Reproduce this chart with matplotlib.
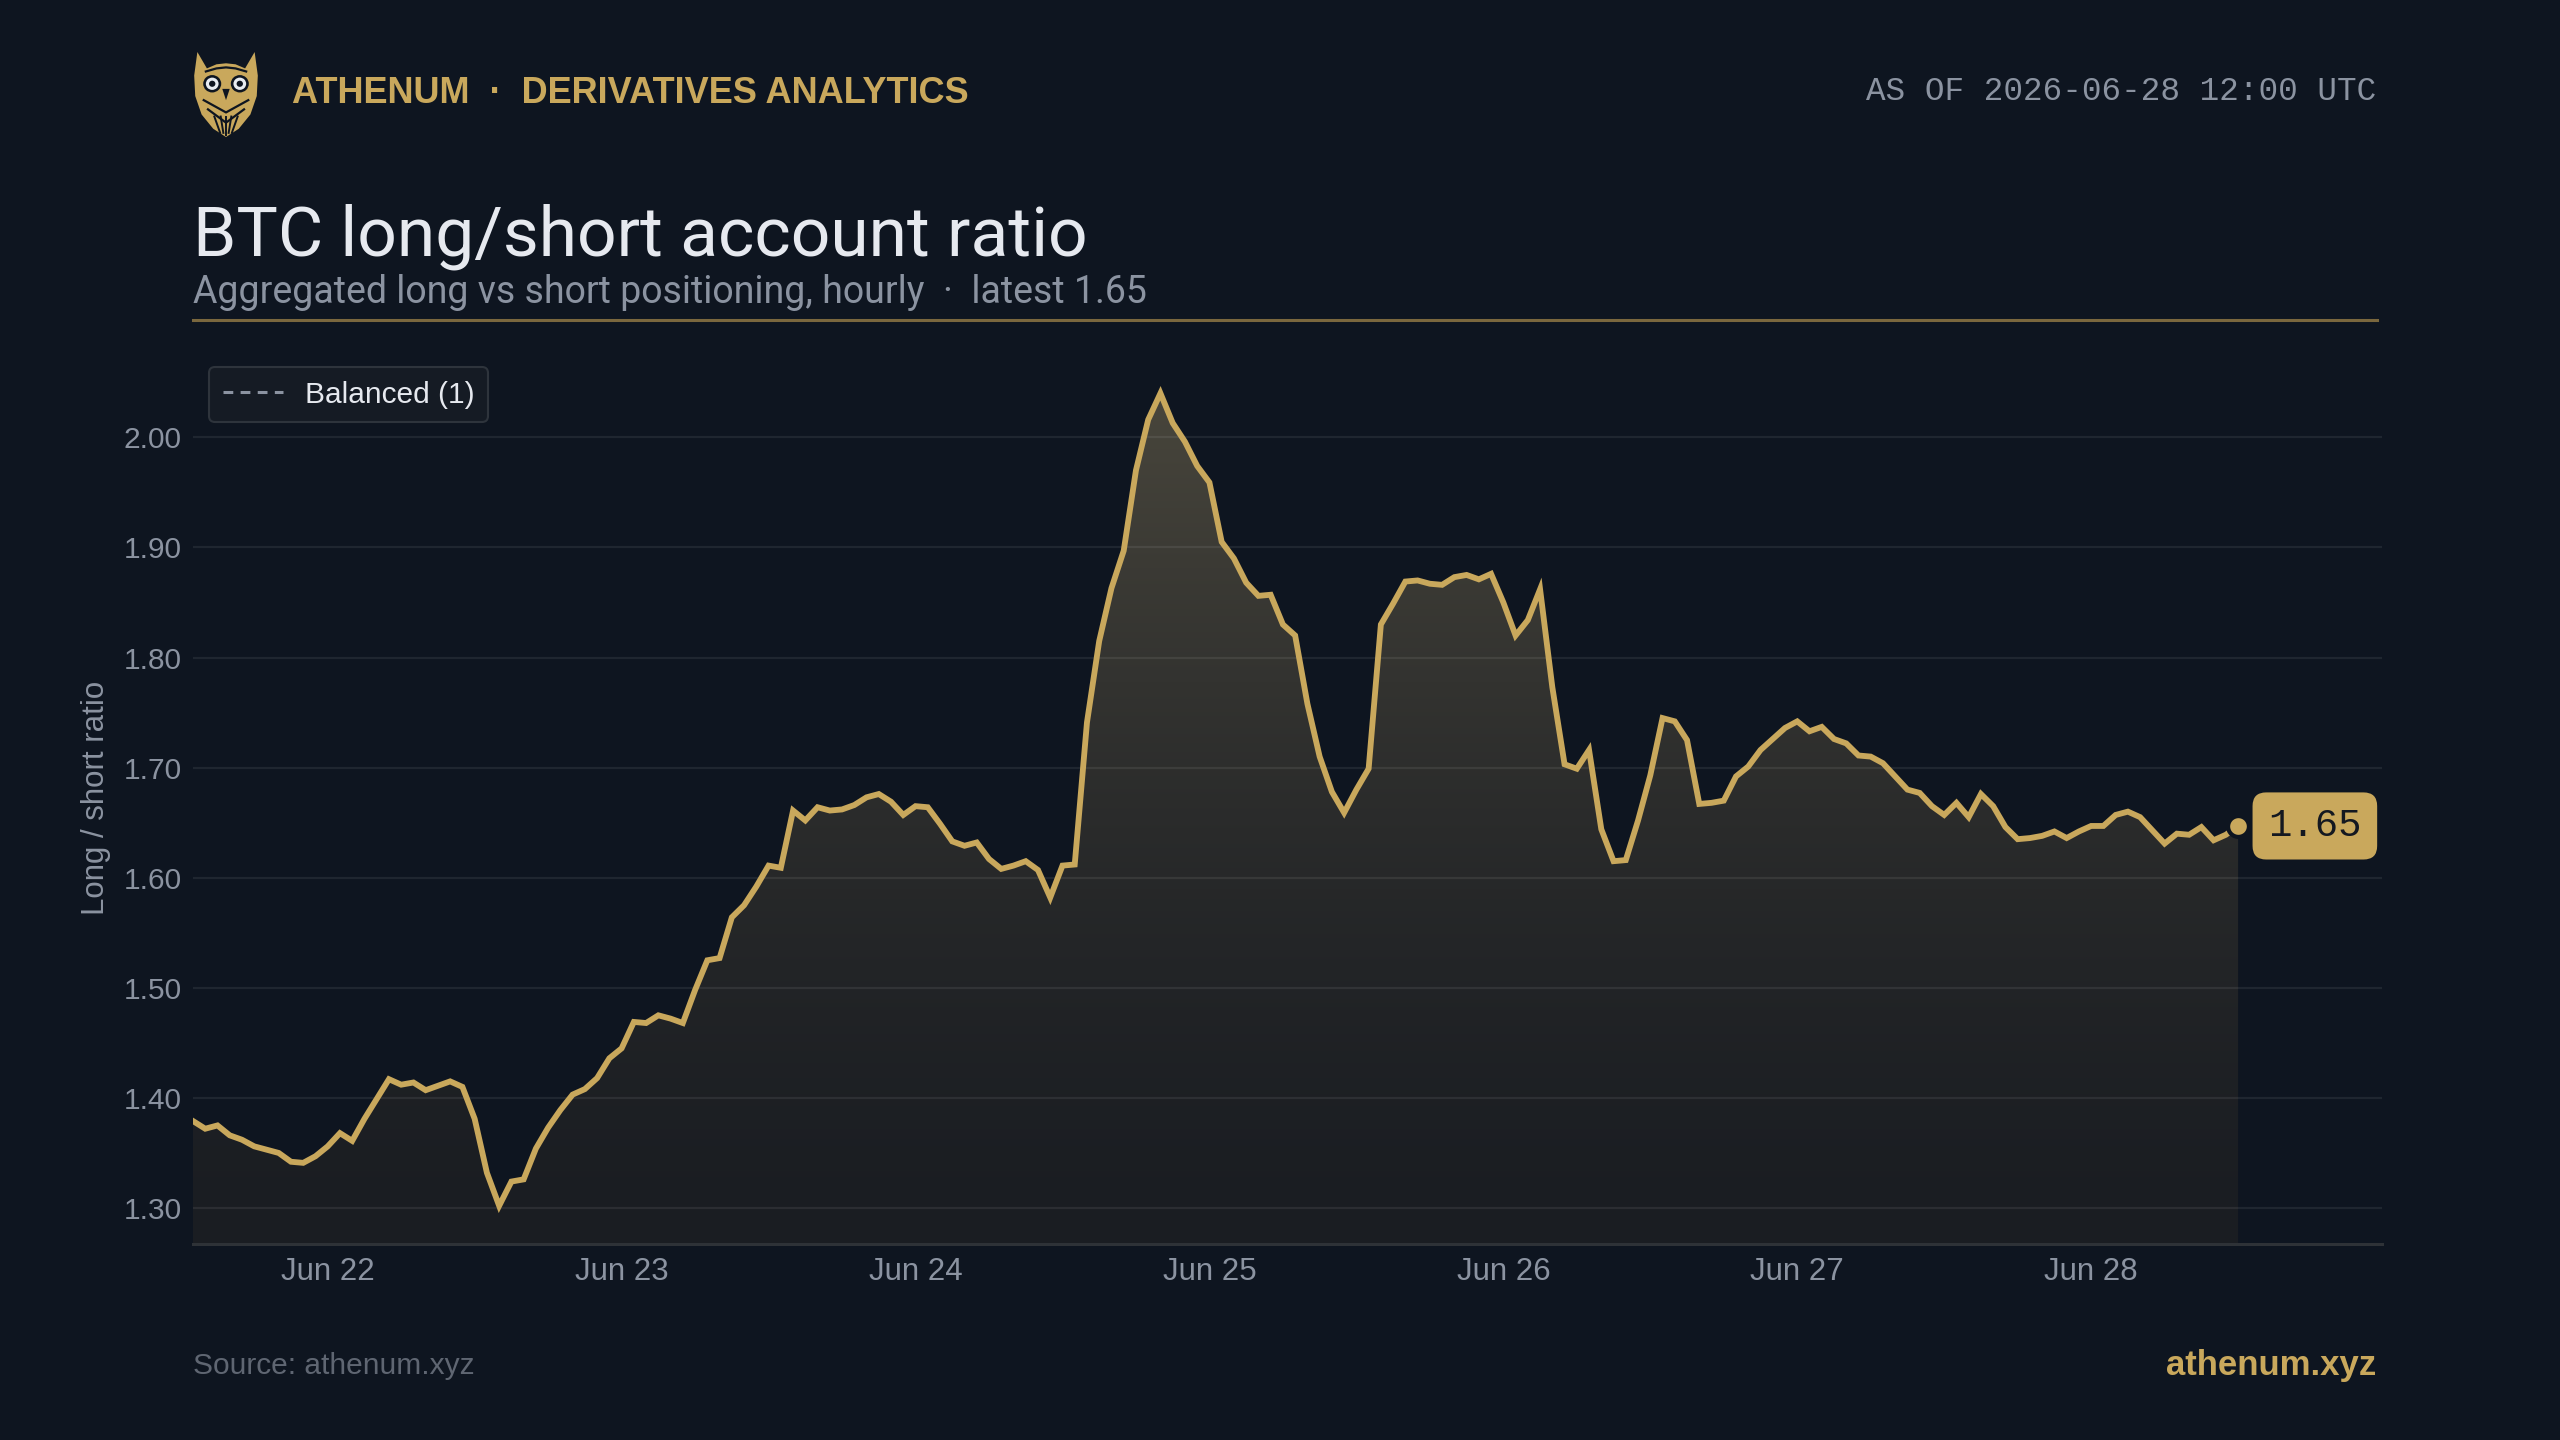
import numpy as np
import pandas as pd
import matplotlib
matplotlib.use("Agg")
import matplotlib.pyplot as plt
import matplotlib.dates as mdates
from matplotlib.patches import Polygon, Circle

# ---------------- data ----------------
start_time = "2026-06-21 13:00"
ratio = [
    1.379, 1.372, 1.375, 1.366, 1.362, 1.356, 1.353, 1.350, 1.342, 1.341,
    1.347, 1.356, 1.368, 1.361, 1.381, 1.399, 1.417, 1.412, 1.414, 1.407,
    1.411, 1.415, 1.410, 1.381, 1.332, 1.302, 1.324, 1.326, 1.354, 1.373,
    1.389, 1.403, 1.408, 1.418, 1.436, 1.445, 1.469, 1.468, 1.475, 1.472,
    1.468, 1.498, 1.525, 1.527, 1.564, 1.575, 1.592, 1.611, 1.609, 1.661,
    1.652, 1.664, 1.661, 1.662, 1.666, 1.673, 1.676, 1.669, 1.657, 1.665,
    1.664, 1.649, 1.633, 1.629, 1.632, 1.617, 1.608, 1.611, 1.615, 1.607,
    1.582, 1.611, 1.612, 1.741, 1.815, 1.863, 1.897, 1.970, 2.016, 2.040,
    2.013, 1.996, 1.974, 1.959, 1.905, 1.890, 1.868, 1.856, 1.857, 1.830,
    1.820, 1.758, 1.710, 1.678, 1.659, 1.680, 1.699, 1.830, 1.849, 1.869,
    1.870, 1.867, 1.866, 1.873, 1.875, 1.871, 1.876, 1.850, 1.820, 1.834,
    1.862, 1.773, 1.703, 1.699, 1.716, 1.644, 1.615, 1.616, 1.652, 1.693,
    1.745, 1.742, 1.725, 1.667, 1.668, 1.670, 1.692, 1.701, 1.716, 1.726,
    1.736, 1.742, 1.733, 1.737, 1.726, 1.722, 1.711, 1.710, 1.704, 1.692,
    1.680, 1.677, 1.665, 1.657, 1.668, 1.655, 1.676, 1.665, 1.646, 1.635,
    1.636, 1.638, 1.642, 1.636, 1.642, 1.647, 1.647, 1.657, 1.660, 1.655,
    1.643, 1.631, 1.640, 1.639, 1.646, 1.634, 1.639, 1.647,
]
times = pd.date_range(start_time, periods=len(ratio), freq="h")
tick_days = pd.date_range("2026-06-22", "2026-06-28", freq="D")
balanced_level = 1.0
ytick_values = [1.30, 1.40, 1.50, 1.60, 1.70, 1.80, 1.90, 2.00]

# ---------------- style ----------------
BG = "#0e1520"
GOLD = "#c9a85c"
MUTED = "#8b93a1"
TITLE_C = "#e6e9ef"
SANS = ["Liberation Sans", "DejaVu Sans"]
HEAD = ["Roboto", "Liberation Sans", "DejaVu Sans"]
MONO = ["Liberation Mono", "DejaVu Sans Mono"]

W, H = 2560, 1440
fig = plt.figure(figsize=(25.6, 14.4), dpi=100, facecolor=BG)

def fx(px):
    return px / W

def fy(py):
    return 1 - py / H

# ---------------- main axes ----------------
ax = fig.add_axes([fx(193), fy(1244), fx(2382 - 193), (1244 - 351) / H])
ax.set_facecolor(BG)
y0, y1 = 1.2673, 2.0784
x0 = mdates.date2num(times[0])
x_end = mdates.date2num(pd.Timestamp("2026-06-28 23:45"))
xnum = mdates.date2num(times)

# gradient fill under the curve
poly = ax.fill_between(times, ratio, y0, facecolor="none", edgecolor="none")
path = poly.get_paths()[0]
g = np.linspace(0, 1, 400)[:, None]
frac = g ** 1.5
c_lo = np.array([26, 29, 34]) / 255
c_hi = np.array([76, 73, 62]) / 255
img = c_lo[None, None, :] + frac[..., None] * (c_hi - c_lo)[None, None, :]
im = ax.imshow(img, extent=[xnum[0], xnum[-1], y0, y1], origin="lower",
               aspect="auto", zorder=1, interpolation="bilinear")
im.set_clip_path(path, transform=ax.transData)

# balanced reference line (outside visible range, appears in legend)
ax.axhline(balanced_level, color=MUTED, lw=2.2, ls=(0, (3.2, 2.4)),
           label="Balanced (1)", zorder=2)

# main line
ax.plot(times, ratio, color=GOLD, lw=4.2, zorder=4, solid_joinstyle="miter")
ax.plot(times[-1:], ratio[-1:], "o", color=GOLD, ms=15, mec=BG, mew=3, zorder=5)

ax.set_xlim(x0, x_end)
ax.set_ylim(y0, y1)

# grid
ax.set_yticks(ytick_values)
ax.yaxis.set_major_formatter(matplotlib.ticker.FormatStrFormatter("%.2f"))
for v in ytick_values:
    ax.axhline(v, color=(1, 1, 1, 0.075), lw=1.6, zorder=1.5)

ax.set_xticks(tick_days)
ax.xaxis.set_major_formatter(mdates.DateFormatter("%b %d"))
ax.tick_params(axis="y", length=0, colors=MUTED, labelsize=21.5, pad=8)
ax.tick_params(axis="x", length=0, colors=MUTED, labelsize=22.5, pad=9)
for lab in ax.get_xticklabels() + ax.get_yticklabels():
    lab.set_fontfamily(SANS)

for s in ["top", "right", "left"]:
    ax.spines[s].set_visible(False)
ax.spines["bottom"].set_color("#2e3237")
ax.spines["bottom"].set_linewidth(2.2)

ax.set_ylabel("Long / short ratio", color=MUTED, fontsize=22.5, family=SANS,
              labelpad=9)

leg = ax.legend(loc="upper left", frameon=True,
                prop={"family": SANS, "size": 21.5},
                borderaxespad=0.55, handlelength=2.0, handletextpad=0.75,
                borderpad=0.45, fancybox=True)
leg.get_frame().set_facecolor("#151b24")
leg.get_frame().set_edgecolor("#2e343c")
leg.get_frame().set_linewidth(1.5)
leg.get_frame().set_alpha(1)
for t in leg.get_texts():
    t.set_color(TITLE_C)

# last value label
ax.annotate(f"{ratio[-1]:.2f}", xy=(times[-1], ratio[-1]),
            xytext=(30, 0), textcoords="offset pixels",
            ha="left", va="center", fontsize=28, family=MONO, color="#141820",
            bbox=dict(boxstyle="round,pad=0.4,rounding_size=0.35",
                      fc=GOLD, ec="none"), zorder=6)

# ---------------- header ----------------
fig.text(fx(292), fy(103), "ATHENUM  ·  DERIVATIVES ANALYTICS", color=GOLD,
         fontsize=26, fontweight="bold", family=SANS, va="baseline", ha="left")
fig.text(fx(2376), fy(91), "AS OF 2026-06-28 12:00 UTC", color=MUTED,
         fontsize=23.5, family=MONO, va="center", ha="right")

fig.text(fx(193), fy(256), "BTC long/short account ratio", color=TITLE_C,
         fontsize=50, family=HEAD, va="baseline", ha="left")
fig.text(fx(193), fy(303), "Aggregated long vs short positioning, hourly  ·  latest 1.65",
         color=MUTED, fontsize=27, family=HEAD, va="baseline", ha="left")

fig.add_artist(matplotlib.lines.Line2D([fx(193), fx(2377)], [fy(320), fy(320)],
                                       color="#7a673e", lw=2.2))

# footer
fig.text(fx(193), fy(1366), "Source: athenum.xyz", color="#5f6672",
         fontsize=21.5, family=SANS, va="center", ha="left")
fig.text(fx(2376), fy(1366), "athenum.xyz", color=GOLD, fontsize=25,
         fontweight="bold", family=SANS, va="center", ha="right")

# ---------------- owl logo ----------------
lax = fig.add_axes([fx(191), fy(137), fx(70), 86 / H])
lax.set_xlim(0, 66)
lax.set_ylim(0, 84)
lax.axis("off")
outline = [(6, 83), (15, 67), (24, 71), (33, 72), (42, 71), (51, 67), (60, 83),
           (63, 60), (62, 40), (56, 22), (45, 8), (33, 0), (21, 8), (10, 22),
           (4, 40), (3, 60)]
lax.add_patch(Polygon(outline, closed=True, fc=GOLD, ec="none"))
lax.plot([14, 24, 33, 42, 52], [64, 67, 68, 67, 64], color=BG, lw=1.6)
for cx in (20, 46):
    lax.add_patch(Circle((cx, 52), 8.5, fc=BG, ec="none"))
    lax.add_patch(Circle((cx, 52), 6.0, fc="#e8ecf1", ec="none"))
    lax.add_patch(Circle((cx, 52), 3.0, fc=BG, ec="none"))
lax.add_patch(Polygon([(29.5, 47), (36.5, 47), (33, 36)], closed=True, fc=BG, ec="none"))
lax.plot([12, 33, 54], [36, 24, 36], color=BG, lw=1.6)
lax.plot([16, 33, 50], [27, 14, 27], color=BG, lw=1.6)
for xx in (22, 28, 38, 44):
    lax.plot([xx, 33 + (xx - 33) * 0.5], [20, 4], color=BG, lw=1.4)
lax.plot([33, 33], [20, 2], color=BG, lw=1.4)

fig.savefig("out.png", dpi=100, facecolor=BG)
